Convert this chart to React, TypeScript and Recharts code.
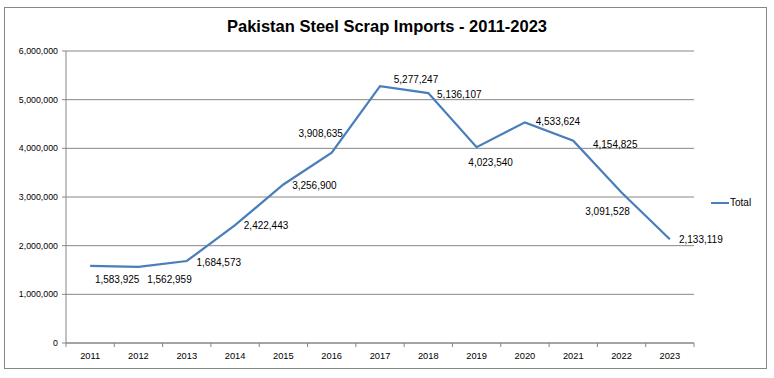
import React from 'react';
import { LineChart, Line, XAxis, YAxis, CartesianGrid, Legend, LabelList } from 'recharts';

const years = ['2011', '2012', '2013', '2014', '2015', '2016', '2017', '2018', '2019', '2020', '2021', '2022', '2023'];
const totals = [1583925, 1562959, 1684573, 2422443, 3256900, 3908635, 5277247, 5136107, 4023540, 4533624, 4154825, 3091528, 2133119];
const yTicks = [0, 1000000, 2000000, 3000000, 4000000, 5000000, 6000000];

// hand-placed label offsets (dx, dy from the point), like the original sheet
const labelOffsets = [
  [27, 14], [31, 13], [32, 1], [31, 0], [31, 1], [-11, -19], [36, -7],
  [31, 1], [14, 15], [33, -1], [42, 4], [-14, 19], [31, 0],
];

const data = years.map((y, i) => ({ year: y, Total: totals[i] }));

const W = 774;
const H = 378;
const X_H = 35;
const M = { top: 51, right: 80, bottom: 0, left: 0 };
const Y_W = 66;
const PLOT_W = W - M.right - Y_W;
const STEP = PLOT_W / years.length;
const AXIS_Y = H - X_H;
const GRAY = '#868686';
const BLUE = '#4a7ebb';
const FONT = '"Liberation Sans", Arial, sans-serif';

const fmt = (v: number) => v.toLocaleString('en-US');

function XTick({ x, payload, index }: any) {
  const left = x - STEP / 2;
  return (
    <g>
      <line x1={left} x2={left} y1={AXIS_Y} y2={AXIS_Y + 4} stroke={GRAY} />
      {index === years.length - 1 && (
        <line x1={x + STEP / 2} x2={x + STEP / 2} y1={AXIS_Y} y2={AXIS_Y + 4} stroke={GRAY} />
      )}
      <text x={x} y={AXIS_Y + 16} textAnchor="middle" fontSize={9.3} fontFamily={FONT} fill="#000">
        {payload.value}
      </text>
    </g>
  );
}

function PointLabel({ x, y, value, index }: any) {
  const [dx, dy] = labelOffsets[index] || [30, 0];
  return (
    <text
      x={x + dx}
      y={y + dy}
      textAnchor="middle"
      dominantBaseline="central"
      fontSize={10}
      fontFamily={FONT}
      fill="#000"
    >
      {fmt(value)}
    </text>
  );
}

function LegendBox() {
  return (
    <div style={{ display: 'flex', alignItems: 'center', fontFamily: FONT, fontSize: 10, color: '#000' }}>
      <span style={{ display: 'inline-block', width: 18, height: 2, background: BLUE, marginRight: 1 }} />
      Total
    </div>
  );
}

export default function App() {
  return (
    <div style={{ position: 'relative', width: W, height: H, background: '#fff' }}>
      <style>{`body{margin:0}`}</style>
      <div
        style={{
          position: 'absolute',
          left: 4,
          top: 7,
          width: 763,
          height: 362,
          border: `1px solid ${GRAY}`,
          boxSizing: 'border-box',
        }}
      />
      <div
        style={{
          position: 'absolute',
          top: 17,
          width: W,
          textAlign: 'center',
          fontFamily: FONT,
          fontWeight: 'bold',
          fontSize: 16.5,
          color: '#000',
        }}
      >
        Pakistan Steel Scrap Imports - 2011-2023
      </div>
      <LineChart width={W} height={H} data={data} margin={M} style={{ position: 'absolute', left: 0, top: 0 }}>
        <CartesianGrid vertical={false} stroke={GRAY} strokeDasharray="" />
        <XAxis
          dataKey="year"
          padding={{ left: STEP / 2, right: STEP / 2 }}
          axisLine={{ stroke: GRAY }}
          tickLine={false}
          tick={<XTick />}
          interval={0}
          height={X_H}
        />
        <YAxis
          width={Y_W}
          domain={[0, 6000000]}
          ticks={yTicks}
          tickFormatter={fmt}
          axisLine={{ stroke: GRAY }}
          tickLine={{ stroke: GRAY }}
          tickSize={4}
          tickMargin={4}
          tick={{ fontSize: 8.8, fontFamily: FONT, fill: '#000' }}
        />
        <Legend
          layout="vertical"
          align="center"
          verticalAlign="middle"
          wrapperStyle={{ left: 711, top: 197, width: 60 }}
          content={<LegendBox />}
        />
        <Line
          type="linear"
          dataKey="Total"
          stroke={BLUE}
          strokeWidth={2.25}
          dot={false}
          isAnimationActive={false}
        >
          <LabelList dataKey="Total" content={<PointLabel />} />
        </Line>
      </LineChart>
    </div>
  );
}
